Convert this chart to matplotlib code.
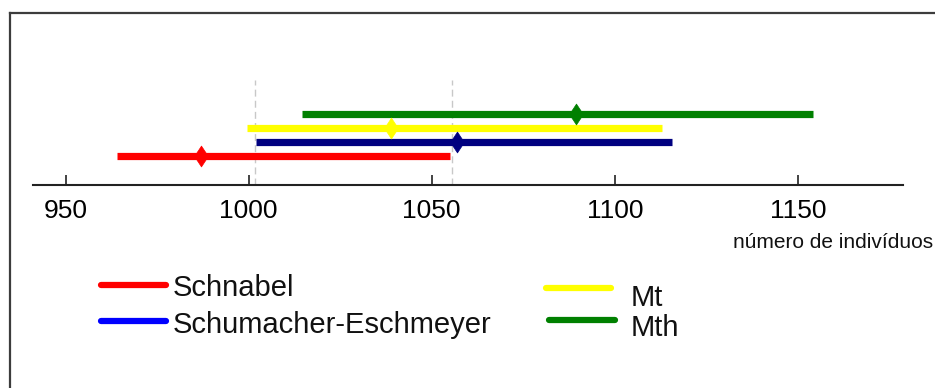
import matplotlib
matplotlib.use("Agg")
import matplotlib.pyplot as plt
from matplotlib.lines import Line2D

plt.rcParams['font.family'] = ['Liberation Sans', 'DejaVu Sans']

# intervalos de confiança por método
methods = ['Schnabel', 'Schumacher-Eschmeyer', 'Mt', 'Mth']
estimates = [987, 1057, 1039, 1089.5]
lower = [964, 1002, 999.5, 1014.5]
upper = [1055, 1115.5, 1113, 1154]
bar_colors = ['#ff0000', '#000080', '#ffff00', '#008000']
legend_colors = ['#ff0000', '#0000ff', '#ffff00', '#008000']
ref_lines = [1001.8, 1055.5]
xticks = [950, 1000, 1050, 1100, 1150]

W, H = 935, 388
fig = plt.figure(figsize=(W / 100, H / 100), dpi=100)

def fx(px):
    return px / W

def fy(py):
    return 1 - py / H

ax = fig.add_axes([fx(33), fy(185), fx(903) - fx(33), fy(13) - fy(185)])
ax.set_xlim(941.1, 1178.7)
ax.set_ylim(-2.07, 10.21)

diamond = [(-0.66, 0), (0, 1), (0.66, 0), (0, -1), (-0.66, 0)]

for x in ref_lines:
    ax.plot([x, x], [-2.07, 5.43], color='#c8c8c8', lw=1, ls=(0, (5, 3)), zorder=1)

for i in range(len(methods)):
    ax.plot([lower[i], upper[i]], [i, i], color=bar_colors[i], lw=5.2,
            solid_capstyle='butt', zorder=2)
    ax.plot(estimates[i], i, marker=diamond, ms=15, color=bar_colors[i],
            mec=bar_colors[i], mew=0.5, zorder=3)

for s in ['top', 'right', 'left']:
    ax.spines[s].set_visible(False)
ax.spines['bottom'].set_linewidth(1.5)
ax.spines['bottom'].set_color('#222222')
ax.set_yticks([])
ax.set_xticks(xticks)
ax.tick_params(axis='x', direction='in', length=7, width=1.2, color='#222222',
               pad=10, labelsize=19)

fig.text(fx(733), fy(243), 'número de indivíduos', fontsize=15,
         va='center', ha='left', color='#111111')

# legenda manual
leg_lines = [(101, 166, 285), (101, 166, 321), (546, 611, 288), (549, 615, 320)]
leg_text = [(173, 288), (173, 325), (631, 298), (631, 328)]
for i in range(len(methods)):
    x0, x1, y = leg_lines[i]
    fig.add_artist(Line2D([fx(x0), fx(x1)], [fy(y), fy(y)], color=legend_colors[i],
                          lw=4.5, solid_capstyle='round'))
    tx, ty = leg_text[i]
    fig.text(fx(tx), fy(ty), methods[i], fontsize=21, va='center', ha='left',
             color='#111111')

# moldura
fig.add_artist(Line2D([fx(10), 1], [fy(13), fy(13)], color='#3c3c3c', lw=1.6))
fig.add_artist(Line2D([fx(10), fx(10)], [fy(13), 0], color='#3c3c3c', lw=1.6))

fig.savefig('out.png', dpi=100)
